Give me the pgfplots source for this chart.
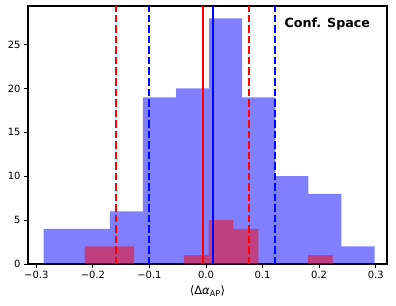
\documentclass[border=0pt]{standalone}
\usepackage{pgfplots}
\pgfplotsset{compat=1.18}
\usepackage{fontspec}
\setmainfont{DejaVu Sans}
\begin{document}
\begin{tikzpicture}
\begin{axis}[
  scale only axis, width=359bp, height=258bp,
  xmin=-0.3147, xmax=0.320, ymin=0, ymax=29.4,
  axis line style={line width=1.3bp},
  tick align=outside, xtick pos=bottom, ytick pos=left,
  major tick length=4bp,
  tick style={black, line width=1bp},
  xtick={-0.3,-0.2,-0.1,0,0.1,0.2,0.3},
  xticklabels={−0.3,−0.2,−0.1,0.0,0.1,0.2,0.3},
  ytick={0,5,10,15,20,25},
  /pgf/number format/assume math mode=true,
  tick label style={font=\fontsize{10}{12}\selectfont},
  xlabel={⟨Δ\textit{α}\textsubscript{AP}⟩},
  xlabel style={font=\fontsize{11.5}{13}\selectfont, yshift=0bp},
  clip=true,
]
\addplot[ybar interval, fill=blue, fill opacity=0.5, draw=none] coordinates {
(-0.287,4) (-0.2285,4) (-0.170,6) (-0.1115,19) (-0.053,20) (0.0055,28) (0.064,19) (0.1225,10) (0.181,8) (0.2395,2) (0.298,2)};
\addplot[ybar interval, fill=red, fill opacity=0.5, draw=none] coordinates {
(-0.2147,2) (-0.1709,2) (-0.1270,0) (-0.0831,0) (-0.0393,1) (0.0046,5) (0.0485,4) (0.0924,0) (0.1363,0) (0.1801,1) (0.2240,1)};
\addplot[red, line width=1.5bp, dash pattern=on 7.5bp off 3bp] coordinates {(-0.159,0) (-0.159,29.4)};
\addplot[blue, line width=1.5bp, dash pattern=on 7.5bp off 3bp] coordinates {(-0.1004,0) (-0.1004,29.4)};
\addplot[red, line width=1.5bp, dash pattern=on 7.5bp off 3bp] coordinates {(0.0758,0) (0.0758,29.4)};
\addplot[blue, line width=1.5bp, dash pattern=on 7.5bp off 3bp] coordinates {(0.1223,0) (0.1223,29.4)};
\addplot[red, line width=1.5bp] coordinates {(-0.0055,0) (-0.0055,29.4)};
\addplot[blue, line width=1.5bp] coordinates {(0.012,0) (0.012,29.4)};
\node[anchor=north east, inner sep=0pt, font=\fontsize{12.7}{15}\selectfont\bfseries] at (rel axis cs:0.953,0.955) {Conf. Space};
\coordinate (ll) at (rel axis cs:0,0);
\coordinate (ur) at (rel axis cs:1,1);
\end{axis}
\pgfresetboundingbox
\path[use as bounding box] ([shift={(-28bp,-41bp)}]ll) rectangle ([shift={(9bp,6bp)}]ur);
\end{tikzpicture}
\end{document}
